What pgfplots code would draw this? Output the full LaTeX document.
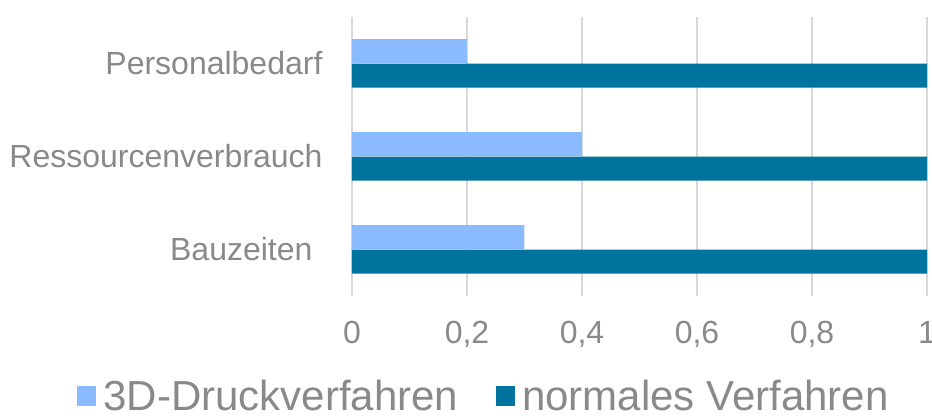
\documentclass[border=0pt]{standalone}
\usepackage{fontspec}
\setmainfont{Liberation Sans}
\usepackage{pgfplots}
\pgfplotsset{compat=1.18}
\definecolor{lightb}{HTML}{8ABAFF}
\definecolor{darkb}{HTML}{00739E}
\definecolor{txt}{HTML}{898989}
\definecolor{gridc}{HTML}{D9D9D9}
\begin{document}
\begin{tikzpicture}
\useasboundingbox (-352pt,-122pt) rectangle (580pt,296pt);
\begin{axis}[
  at={(0pt,0pt)}, anchor=south west,
  scale only axis, width=575pt, height=279pt,
  xmin=0, xmax=1, ymin=-0.5, ymax=2.5,
  xtick={0,0.2,0.4,0.6,0.8,1},
  ytick={0,1,2},
  yticklabels={Bauzeiten\kern10pt\mbox{},Ressourcenverbrauch,Personalbedarf},
  axis line style={draw=none},
  major tick length=0pt,
  xmajorgrids, major grid style={gridc, line width=1.5pt},
  /pgf/number format/use comma,
  /pgf/number format/assume math mode=true,
  xticklabel style={font=\fontsize{32}{38}\selectfont, text=txt, yshift=-22pt},
  yticklabel style={font=\fontsize{32}{38}\selectfont, text=txt, xshift=-26pt},
  legend style={at={(rel axis cs:0.2296,-0.36)}, anchor=center, draw=none, fill=none,
     font=\fontsize{42}{48}\selectfont, text=txt, legend columns=2,
     /tikz/every even column/.append style={column sep=36pt}},
  legend image code/.code={\fill[#1] (0pt,-10pt) rectangle (19pt,10pt); \path (24pt,0pt);},
  legend cell align=left,
]
\addplot[xbar, bar width=0.26, bar shift=0.133, fill=lightb, draw=none]
  coordinates {(0.3,0) (0.4,1) (0.2,2)};
\addplot[xbar, bar width=0.26, bar shift=-0.13, fill=darkb, draw=none]
  coordinates {(1,0) (1,1) (1,2)};
\legend{3D-Druckverfahren, normales Verfahren}
\end{axis}
\end{tikzpicture}
\end{document}
